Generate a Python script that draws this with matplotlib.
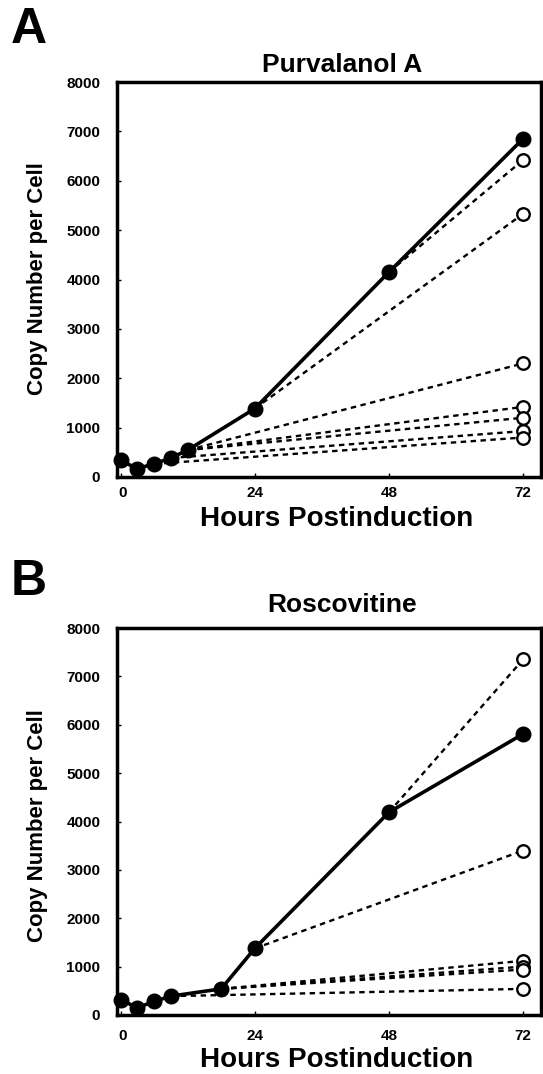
import matplotlib
matplotlib.use("Agg")
import matplotlib.pyplot as plt

plt.rcParams['font.family'] = ['Liberation Sans', 'DejaVu Sans']
plt.rcParams['font.weight'] = 'bold'

# ---------------- data ----------------
titles = ["Purvalanol A", "Roscovitine"]
panel_letters = ["A", "B"]
x_ticks = [0, 24, 48, 72]
y_ticks = [0, 1000, 2000, 3000, 4000, 5000, 6000, 7000, 8000]

# Panel A: untreated (solid, filled)
a_hours = [0, 3, 6, 9, 12, 24, 48, 72]
a_copies = [335, 170, 265, 385, 545, 1385, 4150, 6850]
# Panel A: drug added at given hour -> value at 72 h (dashed, open)
a_start_hours = [48, 24, 12, 12, 12, 9, 6]
a_end_values = [6420, 5330, 2300, 1420, 1200, 930, 800]

# Panel B
b_hours = [0, 3, 6, 9, 18, 24, 48, 72]
b_copies = [317, 150, 280, 390, 540, 1375, 4190, 5810]
b_start_hours = [48, 24, 18, 18, 18, 9]
b_end_values = [7350, 3400, 1120, 1000, 940, 540]
end_hour = 72

W, H = 543, 1074
fig = plt.figure(figsize=(W / 100, H / 100), dpi=100)

def fx(px):
    return px / W

def fy(py):
    return 1 - py / H

panels = [
    dict(hours=a_hours, copies=a_copies, starts=a_start_hours, ends=a_end_values,
         top=82, bottom=477, title_y=65, letter_y=30, xtick_y=493, xlabel_y=519, ylabel_y=279),
    dict(hours=b_hours, copies=b_copies, starts=b_start_hours, ends=b_end_values,
         top=628, bottom=1015, title_y=605, letter_y=582, xtick_y=1036, xlabel_y=1060, ylabel_y=826),
]

left_px, right_px = 117, 541

for i, p in enumerate(panels):
    ax = fig.add_axes([fx(left_px), fy(p['bottom']), fx(right_px - left_px),
                       (p['bottom'] - p['top']) / H])
    ax.set_xlim(-0.63, 75.2)
    ax.set_ylim(0, 8000)

    hrs, cps = p['hours'], p['copies']
    # dashed branches
    for sh, ev in zip(p['starts'], p['ends']):
        sv = cps[hrs.index(sh)]
        ax.plot([sh, end_hour], [sv, ev], linestyle=(0, (2.3, 1.9)), color='black',
                linewidth=1.7, zorder=2)
        ax.plot([end_hour], [ev], marker='o', markersize=9, markerfacecolor='white',
                markeredgecolor='black', markeredgewidth=1.7, linestyle='none', zorder=3)
    # solid series
    ax.plot(hrs, cps, color='black', linewidth=2.6, marker='o', markersize=10.5,
            markerfacecolor='black', markeredgecolor='black', zorder=4, clip_on=False)

    for s in ax.spines.values():
        s.set_linewidth(2.5)
    ax.set_xticks(x_ticks)
    ax.set_yticks(y_ticks)
    ax.tick_params(direction='in', length=3, width=1, labelsize=11, pad=6)
    ax.set_xticklabels([])
    ax.set_yticklabels([str(v) for v in y_ticks], fontweight='bold')
    ax.tick_params(axis='y', pad=12)

    # x tick labels placed under the axis
    for t in x_ticks:
        xp = ax.transData.transform((t, 0))[0]
        fig.text(xp / W + (0.004 if t == 0 else 0), fy(p['xtick_y']), str(t),
                 ha='center', va='center', fontsize=11, fontweight='bold')

    fig.text(fx(342), fy(p['title_y']), titles[i], ha='center', va='center',
             fontsize=19, fontweight='bold')
    fig.text(fx(29), fy(p['letter_y']), panel_letters[i], ha='center', va='center',
             fontsize=36, fontweight='bold')
    fig.text(fx(337), fy(p['xlabel_y']), "Hours Postinduction", ha='center', va='center',
             fontsize=20, fontweight='bold')
    fig.text(fx(38), fy(p['ylabel_y']), "Copy Number per Cell", ha='center', va='center',
             rotation=90, fontsize=16, fontweight='bold')

fig.savefig("out.png", dpi=100)
